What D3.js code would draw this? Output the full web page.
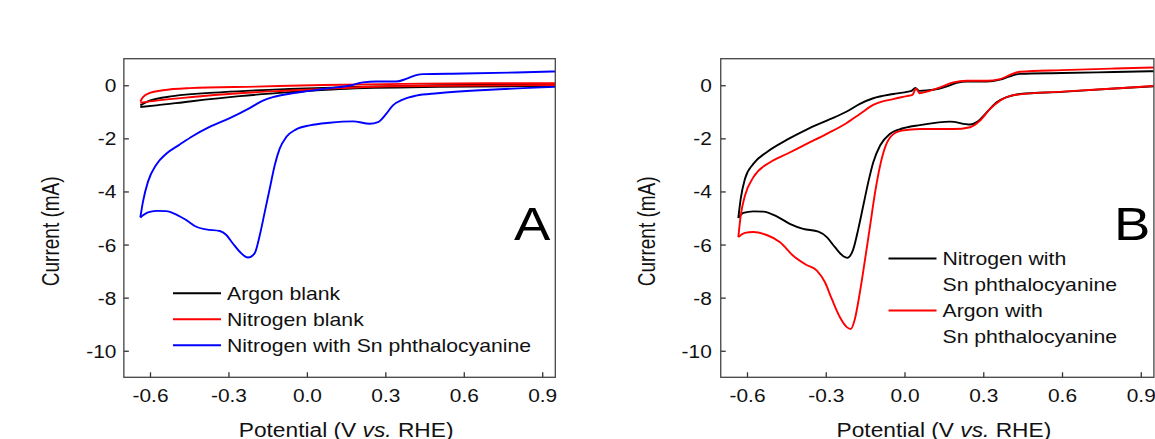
<!DOCTYPE html>
<html>
<head>
<meta charset="utf-8">
<script src="https://cdn.jsdelivr.net/npm/d3@7"></script>
<style>
  html, body { margin: 0; padding: 0; background: #fff; }
  svg { display: block; font-family: "Liberation Sans", Arial, sans-serif; }
</style>
</head>
<body>
<svg id="chart" width="1155" height="439"></svg>
<script>
// Axis ticks shared by both panels
const xTickValues = [-0.6, -0.3, 0, 0.3, 0.6, 0.9];
const xTickLabels = ["-0.6", "-0.3", "0.0", "0.3", "0.6", "0.9"];
const yTickValues = [0, -2, -4, -6, -8, -10];
const yTickLabels = ["0", "-2", "-4", "-6", "-8", "-10"];

// Panel A: cyclic voltammograms, [potential (V vs. RHE), current (mA)]
const argonBlankAnodic = [[-0.637,-0.76],[-0.601,-0.58],[-0.512,-0.41],[-0.321,-0.26],[-0.066,-0.14],[0.19,-0.06],[0.5,0.0],[0.95,0.03]];
const argonBlankCathodic = [[-0.637,-0.82],[-0.576,-0.76],[-0.448,-0.61],[-0.257,-0.41],[-0.066,-0.26],[0.125,-0.14],[0.5,-0.06],[0.95,-0.03]];
const nitrogenBlankAnodic = [[-0.637,-0.61],[-0.627,-0.45],[-0.601,-0.29],[-0.55,-0.19],[-0.448,-0.11],[-0.193,-0.05],[0.062,0.01],[0.444,0.06],[0.95,0.08]];
const nitrogenBlankCathodic = [[-0.637,-0.66],[-0.576,-0.58],[-0.448,-0.45],[-0.257,-0.30],[-0.066,-0.20],[0.125,-0.11],[0.317,-0.04],[0.95,0.01]];
const nitrogenSnPcAnodicA = [[-0.637,-4.98],[-0.627,-4.39],[-0.608,-3.64],[-0.576,-2.99],[-0.538,-2.58],[-0.486,-2.23],[-0.436,-1.91],[-0.372,-1.57],[-0.295,-1.24],[-0.219,-0.86],[-0.168,-0.58],[-0.130,-0.45],[-0.066,-0.32],[0.011,-0.21],[0.087,-0.11],[0.164,-0.01],[0.215,0.11],[0.265,0.14],[0.342,0.14],[0.380,0.24],[0.418,0.38],[0.444,0.42],[0.6,0.44],[0.8,0.48],[0.95,0.52]];
const nitrogenSnPcCathodicA = [[-0.637,-4.98],[-0.608,-4.79],[-0.576,-4.73],[-0.538,-4.74],[-0.499,-4.87],[-0.461,-5.08],[-0.423,-5.33],[-0.385,-5.43],[-0.333,-5.49],[-0.308,-5.64],[-0.283,-5.96],[-0.257,-6.27],[-0.225,-6.49],[-0.200,-6.33],[-0.180,-5.64],[-0.161,-4.77],[-0.142,-3.89],[-0.123,-3.01],[-0.104,-2.39],[-0.079,-1.95],[-0.041,-1.66],[0.011,-1.51],[0.087,-1.41],[0.176,-1.36],[0.240,-1.45],[0.272,-1.39],[0.304,-1.07],[0.329,-0.76],[0.367,-0.54],[0.418,-0.39],[0.5,-0.30],[0.7,-0.17],[0.95,-0.06]];

// Panel B
const nitrogenSnPcAnodicB = [[-0.633,-5.0],[-0.624,-4.28],[-0.608,-3.53],[-0.576,-2.96],[-0.525,-2.52],[-0.449,-2.06],[-0.373,-1.67],[-0.296,-1.33],[-0.220,-0.99],[-0.170,-0.70],[-0.119,-0.49],[-0.043,-0.33],[0.014,-0.24],[0.028,-0.20],[0.041,-0.10],[0.056,-0.21],[0.110,-0.17],[0.161,-0.04],[0.199,0.09],[0.237,0.14],[0.313,0.14],[0.364,0.21],[0.402,0.34],[0.44,0.43],[0.6,0.46],[0.8,0.50],[0.95,0.53]];
const nitrogenSnPcCathodicB = [[-0.633,-5.0],[-0.614,-4.81],[-0.576,-4.75],[-0.538,-4.76],[-0.487,-4.94],[-0.437,-5.22],[-0.386,-5.41],[-0.328,-5.51],[-0.296,-5.72],[-0.265,-6.10],[-0.233,-6.44],[-0.218,-6.5],[-0.195,-6.17],[-0.176,-5.41],[-0.157,-4.53],[-0.138,-3.65],[-0.119,-2.90],[-0.093,-2.27],[-0.055,-1.83],[-0.005,-1.62],[0.059,-1.50],[0.173,-1.37],[0.250,-1.48],[0.275,-1.39],[0.313,-1.02],[0.351,-0.64],[0.389,-0.45],[0.44,-0.33],[0.6,-0.25],[0.8,-0.12],[0.95,-0.04]];
const argonSnPcAnodic = [[-0.633,-5.72],[-0.624,-4.91],[-0.608,-4.16],[-0.576,-3.47],[-0.512,-2.90],[-0.449,-2.59],[-0.373,-2.21],[-0.296,-1.83],[-0.220,-1.42],[-0.170,-1.08],[-0.119,-0.74],[-0.043,-0.52],[0.008,-0.41],[0.030,-0.36],[0.044,-0.13],[0.058,-0.30],[0.085,-0.24],[0.135,-0.08],[0.186,0.11],[0.237,0.17],[0.313,0.17],[0.364,0.23],[0.402,0.39],[0.44,0.51],[0.6,0.57],[0.8,0.63],[0.95,0.67]];
const argonSnPcCathodic = [[-0.633,-5.72],[-0.608,-5.56],[-0.576,-5.53],[-0.525,-5.64],[-0.474,-5.91],[-0.424,-6.42],[-0.373,-6.77],[-0.334,-6.98],[-0.303,-7.42],[-0.277,-8.05],[-0.246,-8.74],[-0.220,-9.11],[-0.205,-9.18],[-0.189,-8.80],[-0.170,-7.80],[-0.150,-6.54],[-0.131,-5.29],[-0.112,-4.03],[-0.093,-3.03],[-0.074,-2.34],[-0.049,-1.90],[-0.011,-1.71],[0.059,-1.65],[0.186,-1.65],[0.25,-1.58],[0.288,-1.33],[0.326,-0.89],[0.364,-0.58],[0.415,-0.37],[0.6,-0.24],[0.8,-0.12],[0.95,-0.03]];

// Legend entries (text lines per entry)
const legendA = [["Argon blank"], ["Nitrogen blank"], ["Nitrogen with Sn phthalocyanine"]];
const legendB = [["Nitrogen with", "Sn phthalocyanine"], ["Argon with", "Sn phthalocyanine"]];

const svg = d3.select("#chart");
const SX = 1.16;                // the figure's lettering is set slightly wide
const FONT = '"Liberation Sans", Arial, sans-serif';

function wideText(parent, x, y, str, size, anchor) {
  return parent.append("text")
    .attr("transform", `translate(${x},${y}) scale(${SX},1)`)
    .attr("text-anchor", anchor || "start")
    .attr("fill", "#111")
    .style("font-size", size + "px")
    .style("font-family", FONT)
    .text(str);
}

function drawPanel(cfg) {
  const x = d3.scaleLinear().domain([-0.7, 0.95]).range([cfg.x0, cfg.x1]);
  const y = d3.scaleLinear().domain([-11, 1]).range([377.3, 58.7]);
  const g = svg.append("g");

  const clipId = "clip-" + cfg.id;
  g.append("clipPath").attr("id", clipId).append("rect")
    .attr("x", x(-0.7)).attr("y", y(1))
    .attr("width", x(0.95) - x(-0.7)).attr("height", y(-11) - y(1));

  const line = d3.line().x(d => x(d[0])).y(d => y(d[1])).curve(d3.curveMonotoneX);
  const curves = g.append("g").attr("clip-path", `url(#${clipId})`);
  cfg.series.forEach(s => {
    [s.anodic, s.cathodic].forEach(branch => {
      curves.append("path").attr("d", line(branch))
        .attr("fill", "none").attr("stroke", s.color)
        .attr("stroke-width", 1.9).attr("stroke-linejoin", "round");
    });
  });

  // bottom axis, ticks pointing into the plot
  const xAxis = d3.axisBottom(x).tickValues(xTickValues)
    .tickFormat((d, i) => xTickLabels[i]).tickSizeInner(-5).tickSizeOuter(0);
  const gx = g.append("g").attr("transform", `translate(0,${y(-11)})`).call(xAxis);
  gx.attr("font-size", null).attr("font-family", null);
  gx.select(".domain").remove();
  gx.selectAll(".tick line").attr("stroke", "#333").attr("stroke-width", 1.3);
  gx.selectAll(".tick text").attr("y", 25).attr("dy", null)
    .attr("transform", `scale(${SX},1)`).attr("fill", "#111")
    .style("font-size", "18px").style("font-family", FONT);

  const yAxis = d3.axisLeft(y).tickValues(yTickValues)
    .tickFormat((d, i) => yTickLabels[i]).tickSizeInner(-5).tickSizeOuter(0);
  const gy = g.append("g").attr("transform", `translate(${x(-0.7)},0)`).call(yAxis);
  gy.attr("font-size", null).attr("font-family", null);
  gy.select(".domain").remove();
  gy.selectAll(".tick line").attr("stroke", "#333").attr("stroke-width", 1.3);
  gy.selectAll(".tick text").attr("x", -cfg.labelGap / SX).attr("dy", "0.36em")
    .attr("transform", `scale(${SX},1)`).attr("fill", "#111")
    .style("font-size", "18px").style("font-family", FONT);

  // frame
  g.append("rect").attr("x", x(-0.7)).attr("y", y(1))
    .attr("width", x(0.95) - x(-0.7)).attr("height", y(-11) - y(1))
    .attr("fill", "none").attr("stroke", "#444").attr("stroke-width", 1.3);

  // axis titles
  const xt = wideText(g, x(0.15), 436.5, "", 19.6, "middle");
  xt.append("tspan").text("Potential (V ");
  xt.append("tspan").style("font-style", "italic").text("vs.");
  xt.append("tspan").text(" RHE)");

  g.append("text")
    .attr("transform", `translate(${x(-0.7) - 65.3},${y(-5.5)}) scale(1.22,1) rotate(-90)`)
    .attr("text-anchor", "middle").attr("fill", "#111")
    .style("font-size", "19px").style("font-family", FONT)
    .text("Current (mA)");

  // panel letter
  wideText(g, cfg.letterX, 240, cfg.letter, 47, "start").attr("fill", "#000");

  // legend
  let row = 0;
  cfg.legend.forEach((entry, k) => {
    const ly = cfg.legendY + row * cfg.legendStep;
    g.append("line").attr("x1", cfg.legendX).attr("x2", cfg.legendX + 48)
      .attr("y1", ly).attr("y2", ly)
      .attr("stroke", cfg.series[cfg.legendOrder[k]].color).attr("stroke-width", 2);
    entry.forEach((txt, j) => {
      wideText(g, cfg.legendX + 54, ly + j * cfg.legendStep, txt, 18.3, "start")
        .attr("dy", "0.35em");
    });
    row += entry.length;
  });
}

drawPanel({
  id: "a", x0: 123.85, x1: 555.3, letter: "A", letterX: 514, labelGap: 7.5,
  series: [
    { color: "#000000", anodic: argonBlankAnodic, cathodic: argonBlankCathodic },
    { color: "#ff0000", anodic: nitrogenBlankAnodic, cathodic: nitrogenBlankCathodic },
    { color: "#0000ff", anodic: nitrogenSnPcAnodicA, cathodic: nitrogenSnPcCathodicA }
  ],
  legend: legendA, legendOrder: [0, 1, 2],
  legendX: 173, legendY: 293.3, legendStep: 26
});

drawPanel({
  id: "b", x0: 720.75, x1: 1153.9, letter: "B", letterX: 1114, labelGap: 9,
  series: [
    { color: "#000000", anodic: nitrogenSnPcAnodicB, cathodic: nitrogenSnPcCathodicB },
    { color: "#ff0000", anodic: argonSnPcAnodic, cathodic: argonSnPcCathodic }
  ],
  legend: legendB, legendOrder: [0, 1],
  legendX: 888.5, legendY: 258.5, legendStep: 26
});
</script>
</body>
</html>
